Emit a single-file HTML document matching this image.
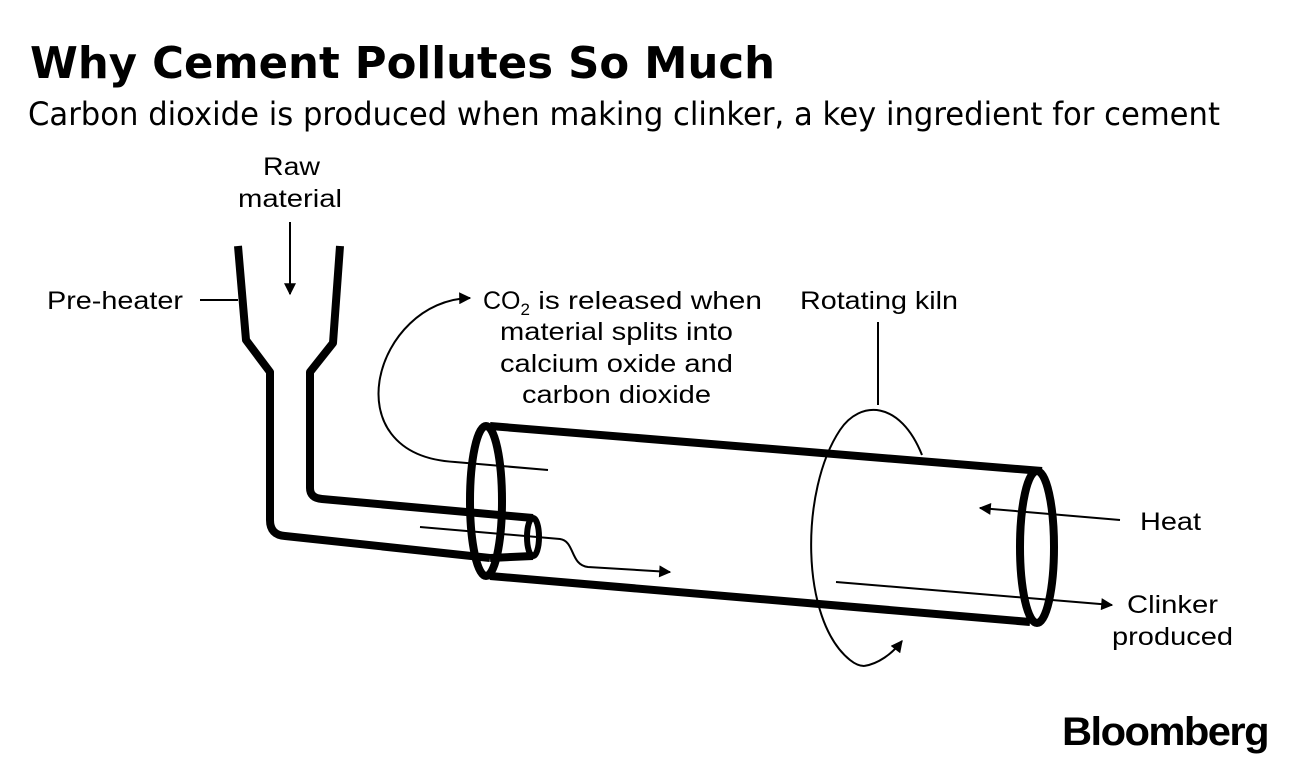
<!DOCTYPE html>
<html><head><meta charset="utf-8"><style>
html,body{margin:0;padding:0;background:#fff;}
svg{display:block}
</style></head><body>
<svg width="1296" height="768" viewBox="0 0 1296 768" xmlns="http://www.w3.org/2000/svg">
<defs>
<marker id="ah2" viewBox="0 0 10 10" refX="9" refY="5" markerWidth="14" markerHeight="12" markerUnits="userSpaceOnUse" orient="auto"><path d="M0,0 L10,5 L0,10 z" fill="#000"/></marker>
</defs>
<text x="30" y="78" font-family="DejaVu Sans" font-weight="bold" font-size="44" textLength="745" lengthAdjust="spacingAndGlyphs">Why Cement Pollutes So Much</text>
<text x="28" y="125" font-family="DejaVu Sans" font-size="32" textLength="1192" lengthAdjust="spacingAndGlyphs">Carbon dioxide is produced when making clinker, a key ingredient for cement</text>

<g font-family="Liberation Sans" font-size="25" fill="#000">
<text x="263" y="175" textLength="57" lengthAdjust="spacingAndGlyphs">Raw</text>
<text x="238" y="207" textLength="104" lengthAdjust="spacingAndGlyphs">material</text>
<text x="47" y="309" textLength="136" lengthAdjust="spacingAndGlyphs">Pre-heater</text>
<text x="800" y="309" textLength="158" lengthAdjust="spacingAndGlyphs">Rotating kiln</text>
<text x="483" y="309">CO<tspan font-size="17" dy="6">2</tspan><tspan dy="-6" textLength="232" lengthAdjust="spacingAndGlyphs"> is released when</tspan></text>
<text x="500" y="340" textLength="233" lengthAdjust="spacingAndGlyphs">material splits into</text>
<text x="500" y="372" textLength="233" lengthAdjust="spacingAndGlyphs">calcium oxide and</text>
<text x="522" y="403" textLength="189" lengthAdjust="spacingAndGlyphs">carbon dioxide</text>
<text x="1140" y="530" textLength="61" lengthAdjust="spacingAndGlyphs">Heat</text>
<text x="1127" y="613" textLength="91" lengthAdjust="spacingAndGlyphs">Clinker</text>
<text x="1112" y="645" textLength="121" lengthAdjust="spacingAndGlyphs">produced</text>
</g>
<text x="1062" y="745" font-family="Liberation Sans" font-weight="bold" font-size="40" letter-spacing="-1.5" textLength="206" lengthAdjust="spacingAndGlyphs">Bloomberg</text>

<g fill="none" stroke="#000" stroke-linejoin="round">
<path d="M238,246 L246,340 L270,372 L270,520 Q270,535 285,536 L490,558" stroke-width="8"/>
<path d="M340,246 L333,343 L310,372 L310,488 Q310,498 322,499 L533,518" stroke-width="8"/>
<path d="M490,558 L533,556" stroke-width="8"/>
<ellipse cx="533" cy="537" rx="6" ry="19" stroke-width="6"/>
<ellipse cx="486" cy="501" rx="16" ry="75" stroke-width="8"/>
<path d="M490,426 L1042,471" stroke-width="8"/>
<path d="M490,576 L1030,622" stroke-width="8"/>
<ellipse cx="1037" cy="547" rx="17" ry="76" stroke-width="8"/>
</g>
<g fill="none" stroke="#000" stroke-width="2">
<line x1="200" y1="300" x2="238" y2="300"/>
<line x1="290" y1="222" x2="290" y2="294" marker-end="url(#ah2)"/>
<line x1="878" y1="322" x2="878" y2="405"/>
<path d="M548,470 L455,462 C330,455 375,300 470,298" marker-end="url(#ah2)"/>
<path d="M420,527 L560,539 C575,541 570,565 588,567 L670,572" marker-end="url(#ah2)"/>
<line x1="1120" y1="520" x2="980" y2="508" marker-end="url(#ah2)"/>
<line x1="836" y1="582" x2="1112" y2="605" marker-end="url(#ah2)"/>
<path d="M922,455 C900,400 860,400 840,430 C800,490 800,620 850,660 C855,664 860,666 864,666"/>
<path d="M864,666 C878,664 892,654 902,641" marker-end="url(#ah2)"/>
</g>
</svg>
</body></html>
